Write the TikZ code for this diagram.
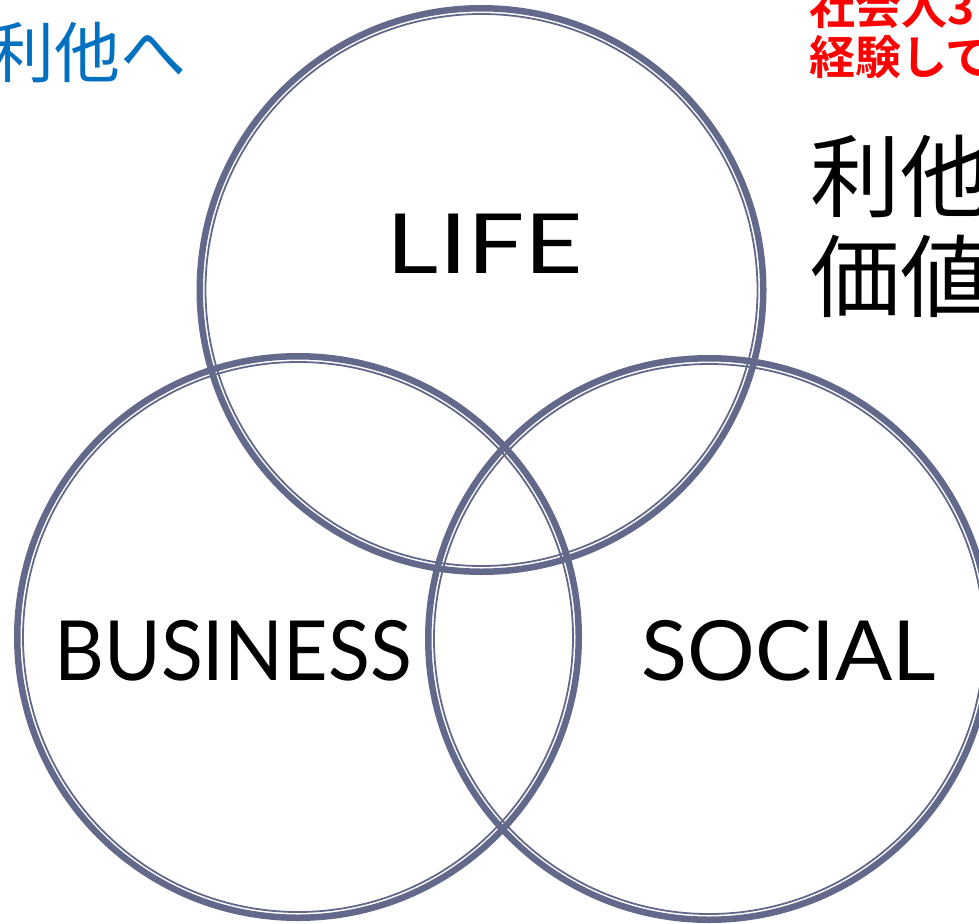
\documentclass[tikz,border=0pt]{standalone}
\usepackage{fontspec}
\setmainfont{Lato}
\newfontfamily\jpfont{Noto Sans CJK JP}
\newfontfamily\jpbold{Noto Sans CJK JP Bold}
\definecolor{ringcol}{RGB}{98,105,138}
\definecolor{bluetxt}{RGB}{0,112,192}
\definecolor{redtxt}{RGB}{255,0,0}
\tikzset{
  ringouter/.style={draw=ringcol, line width=6.5pt},
  ringinner/.style={draw=ringcol, line width=1.8pt},
  vennlabel/.style={font=\fontsize{83}{83}\selectfont, inner sep=0pt, anchor=base},
}
\begin{document}
\begin{tikzpicture}[x=1pt,y=-1pt]
\useasboundingbox (0,0) rectangle (979,923);
\clip (0,0) rectangle (979,923);
% circles
\coordinate (ctop) at (481.5,290);
\coordinate (cleft) at (298,637);
\coordinate (cright) at (709,639);
\foreach \c/\r in {ctop/285, cleft/284, cright/284}{
  \path[ringouter] (\c) circle[radius=\r pt - 3.25pt];
  \path[ringinner] (\c) circle[radius=\r pt - 9pt];
}
% labels
\node[vennlabel] (life) at (485,273) {\scalebox{1.22}[1]{LIFE}};
\node[vennlabel] (business) at (233,680) {\scalebox{0.93}[1]{BUSINESS}};
\node[vennlabel] (social) at (789,680) {\scalebox{1.02}[1]{SOCIAL}};
% texts at edges
\node[font=\jpfont\fontsize{66}{66}\selectfont, text=bluetxt, anchor=west, inner sep=0pt] (altru) at (-12,53) {利他へ};
\node[font=\jpbold\fontsize{46}{50}\selectfont, text=redtxt, anchor=north west, inner sep=0pt, align=left] (note) at (809,-15) {社会人3\\経験して};
\node[font=\jpfont\fontsize{90}{100}\selectfont, text=black, anchor=north west, inner sep=0pt, align=left] (value) at (810,135) {利他\\価値};
\end{tikzpicture}
\end{document}
